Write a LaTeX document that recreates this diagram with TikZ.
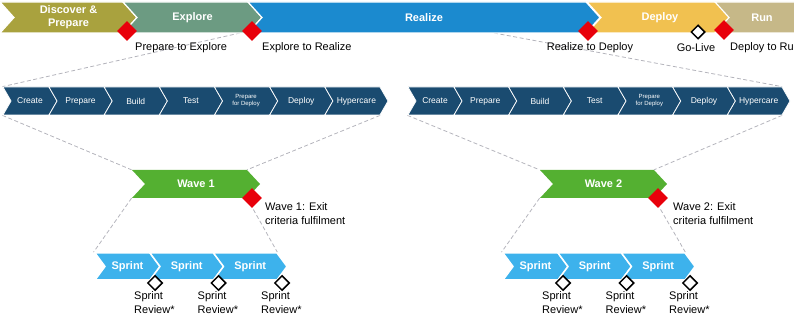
\documentclass[tikz,border=0pt]{standalone}
\usepackage{fontspec}
\setmainfont{Liberation Sans}
\usetikzlibrary{shapes.symbols,shapes.geometric}
\definecolor{discover}{HTML}{A9A23E}
\definecolor{explore}{HTML}{6C9B82}
\definecolor{realize}{HTML}{1B8ACF}
\definecolor{deploy}{HTML}{F1C150}
\definecolor{run}{HTML}{C6B888}
\definecolor{stepblue}{HTML}{1A4B70}
\definecolor{wavegreen}{HTML}{54B031}
\definecolor{sprintblue}{HTML}{3DB2EC}
\definecolor{msred}{HTML}{E8000B}
\definecolor{funnelgrey}{HTML}{B4B4BC}
\pgfdeclarelayer{bg}
\pgfsetlayers{bg,main}
\begin{document}
\begin{tikzpicture}[x=1pt,y=-1pt,
	chev/.style={signal,signal from=west,signal to=east,inner sep=0pt,draw=white,text=white,align=center},
	phase/.style={chev,line width=1.2pt,minimum height=31,signal pointer angle=96,font=\bfseries\fontsize{11}{13}\selectfont},
	procstep/.style={chev,fill=stepblue,line width=0.7pt,minimum height=28,signal pointer angle=120},
	wave/.style={chev,fill=wavegreen,draw=none,minimum height=28,signal pointer angle=94,font=\bfseries\fontsize{11}{13}\selectfont},
	sprint/.style={chev,fill=sprintblue,line width=1.5pt,minimum height=27,signal pointer angle=107,font=\bfseries\fontsize{11}{13}\selectfont},
	gate/.style={diamond,fill=msred,inner sep=0pt,minimum width=20,minimum height=20},
	review/.style={diamond,draw=black,line width=1.5pt,fill=white,inner sep=0pt,minimum width=15,minimum height=15},
	note/.style={inner sep=0pt,align=left,font=\fontsize{11}{14}\selectfont},
	funnel/.style={draw=funnelgrey,line width=0.8pt,dash pattern=on 4pt off 2.5pt}]
	\useasboundingbox (0,0) rectangle (794,328);
	\clip (0,0) rectangle (794,328);
	% phases
	\node[phase,fill=discover,minimum width=137] (disc) at (68.5,17.5) {Discover \&\\Prepare};
	\node[phase,fill=explore,minimum width=139] (expl) at (192.5,17.5) {Explore};
	\node[phase,fill=realize,minimum width=352] (real) at (424,17.5) {Realize};
	\node[phase,fill=deploy,minimum width=146] (depl) at (660,17.5) {Deploy};
	\node[phase,fill=run,signal to=nowhere,minimum width=80] (run) at (762,17.5) {Run};
	% quality gates
	\node[gate] (g1) at (127,31) {};
	\node[gate] (g2) at (252,31) {};
	\node[gate] (g3) at (588,31) {};
	\node[review,minimum width=14,minimum height=14] (golive) at (698,32) {};
	\node[gate] (g5) at (724,30) {};
	\node[note,anchor=west] (t1) at (135,48) {Prepare to Explore};
	\node[note,anchor=west] (t2) at (262,48) {Explore to Realize};
	\node[note] (t3) at (590,48) {Realize to Deploy};
	\node[note] (t4) at (696,48) {Go-Live};
	\node[note,anchor=west] (t5) at (730,48) {Deploy to Run};
	% realize steps
	\foreach \bar/\xa/\xb in {L/3/388,R/408/790}{
		\foreach \lab/\fs [count=\i from 0] in {Create/8.5,Prepare/8.5,Build/8.5,Test/8.5,{Prepare\\for Deploy}/6,Deploy/8.5,Hypercare/8.5}{
			\pgfmathsetmacro\tip{\xa+54+(\xb-\xa-54)/6*\i}
			\pgfmathsetmacro\lft{\i==0 ? \xa : \tip-(\xb-\xa-54)/6-8}
			\node[procstep,minimum width=\tip-\lft,font=\fontsize{\fs}{7}\selectfont] (\bar\i) at ({(\lft+\tip)/2},101) {\lab};
		}
	}
	% waves
	\node[wave,minimum width=128] (w1) at (196,184) {Wave 1};
	\node[wave,minimum width=127] (w2) at (603.5,184) {Wave 2};
	\node[gate] (wg1) at (252,198) {};
	\node[gate] (wg2) at (658,198) {};
	\node[note,anchor=north west] (wl1) at (265,202) {Wave 1: Exit\\criteria fulfilment};
	\node[note,anchor=north west] (wl2) at (673,202) {Wave 2: Exit\\criteria fulfilment};
	% sprints
	\foreach \grp/\xa in {1/95,2/503}{
		\foreach \i in {0,1,2}{
			\pgfmathsetmacro\tip{\xa+65+63.5*\i}
			\pgfmathsetmacro\lft{\i==0 ? \xa : \tip-73.5}
			\node[sprint,minimum width=\tip-\lft] (S\grp\i) at ({(\lft+\tip)/2},266.5) {Sprint};
		}
		\foreach \i in {0,1,2}{
			\pgfmathsetmacro\tip{\xa+65+63.5*\i}
			\node[review] (r\grp\i) at (\tip-5,283) {};
			\node[note,anchor=north west] (rl\grp\i) at (\tip-26,291) {Sprint\\Review*};
		}
	}
	% funnels
	\begin{pgfonlayer}{bg}
		\coordinate (fa) at (240,33);
		\coordinate (fb) at (494,33);
		\draw[funnel] (fa) -- (L0.north west) (fb) -- (R6.north east);
		\draw[funnel] (L0.south west) -- (w1.north west) (L6.south east) -- (w1.north east);
		\draw[funnel] (R0.south west) -- (w2.north west) (R6.south east) -- (w2.north east);
		\draw[funnel] (w1.south west) -- (S10.north west) (w1.south east) -- (S12.north east);
		\draw[funnel] (w2.south west) -- (S20.north west) (w2.south east) -- (S22.north east);
	\end{pgfonlayer}
\end{tikzpicture}
\end{document}
